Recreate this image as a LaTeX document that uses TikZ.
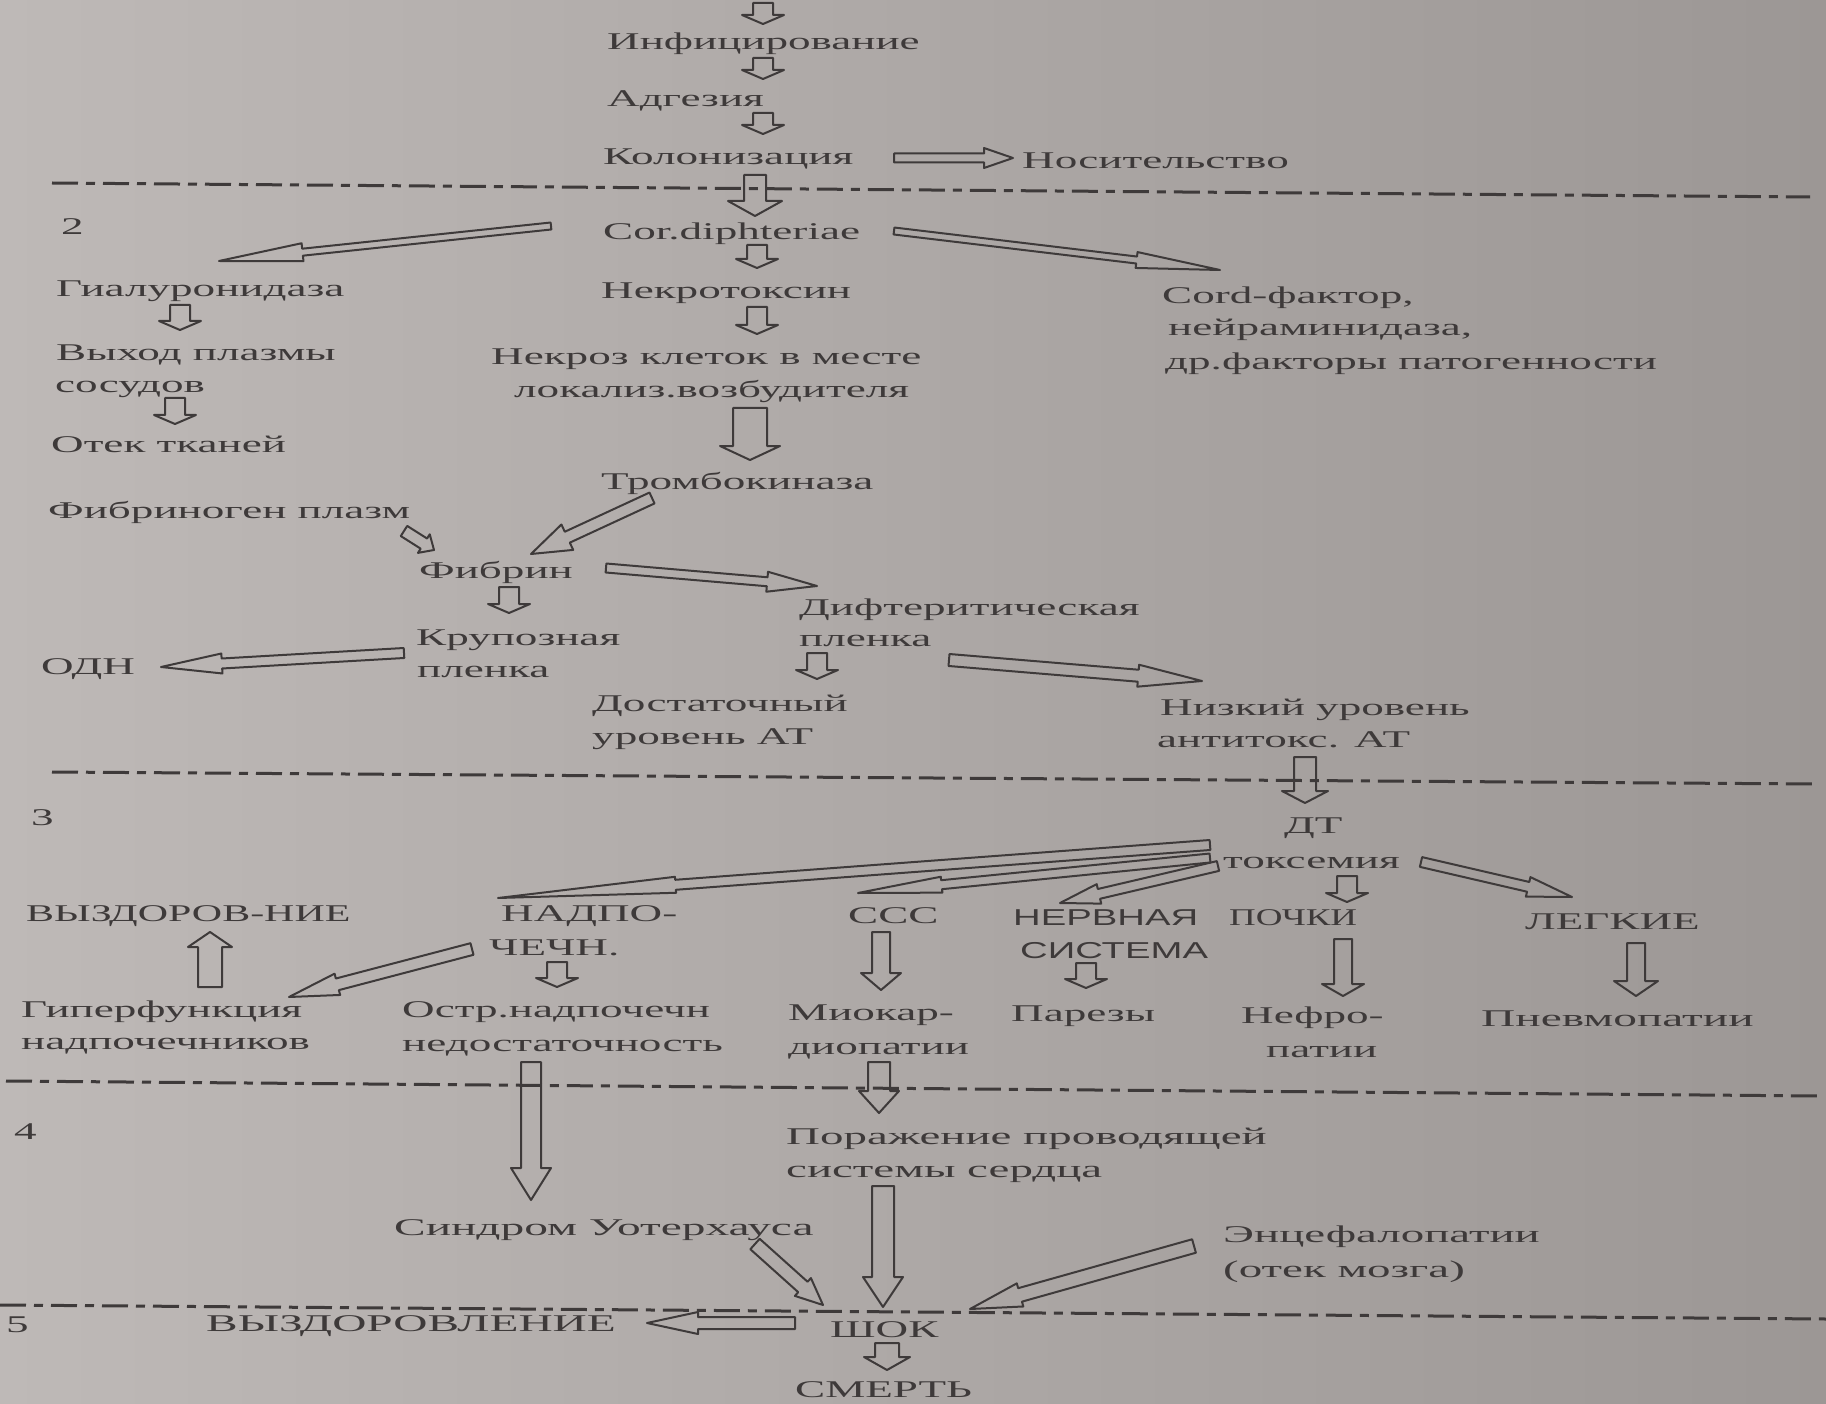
\documentclass[tikz,border=0pt]{standalone}
\usepackage{fontspec}
\setmainfont[FakeStretch=1.88]{Liberation Serif}
\newfontfamily\sansfam[FakeStretch=1.6]{Liberation Sans}
\usetikzlibrary{calc}
\definecolor{ink}{RGB}{62,58,58}
\definecolor{bgl}{RGB}{190,185,183}
\definecolor{bgr}{RGB}{156,151,149}
\tikzset{
 lbl/.style={anchor=west, inner sep=0pt, text height=22pt, text depth=4pt, font=\fontsize{24}{28}\selectfont, text=ink},
 slbl/.style={lbl, font=\sansfam\fontsize{23}{27}\selectfont},
 arr/.style={draw=ink, line width=2pt, line join=round},
 sep/.style={draw=ink, line width=3pt, dash pattern=on 26pt off 8pt on 9pt off 8pt},
}
% hollow block arrow: #1 from, #2 to, #3 shaft half width, #4 head half width, #5 head length
\newcommand\barr[5]{%
 \coordinate (bS) at #1;
 \coordinate (bT) at #2;
 \coordinate (bH) at ($(bT)!#5pt!(bS)$);
 \draw[arr] ($(bS)!#3pt!90:(bT)$) -- ($(bH)!#3pt!90:(bT)$) -- ($(bH)!#4pt!90:(bT)$) -- (bT)
   -- ($(bH)!#4pt!-90:(bT)$) -- ($(bH)!#3pt!-90:(bT)$) -- ($(bS)!#3pt!-90:(bT)$) -- cycle;}
\newcommand\sx[2]{\scalebox{#1}[1]{#2}}
\begin{document}
\begin{tikzpicture}[x=1pt,y=-1pt]
\shade[left color=bgl,right color=bgr] (0,0) rectangle (1826,1404);
\useasboundingbox (0,0) rectangle (1826,1404);

% separators
\coordinate (s1a) at (52,183);   \coordinate (s1b) at (1810,197);
\coordinate (s2a) at (52,772);   \coordinate (s2b) at (1816,784);
\coordinate (s3a) at (6,1081);   \coordinate (s3b) at (1822,1096);
\coordinate (s4a) at (0,1305);   \coordinate (s4b) at (1826,1319);
\draw[sep] (s1a) -- (s1b);
\draw[sep] (s2a) -- (s2b);
\draw[sep] (s3a) -- (s3b);
\draw[sep] (s4a) -- (s4b);

% nodes
\node[lbl] (inf) at (607,41) {Инфицирование};
\node[lbl] (adg) at (607,98) {Адгезия};
\node[lbl] (kol) at (603,156) {Колонизация};
\node[lbl] (nos) at (1022,160) {Носительство};
\node[lbl] (n2) at (61,226) {2};
\node[lbl] (cor) at (603,231) {Cor.diphteriae};
\node[lbl] (gial) at (56,288) {Гиалуронидаза};
\node[lbl] (nekr) at (601,290) {Некротоксин};
\node[lbl] (cord1) at (1162,295) {Cord-фактор,};
\node[lbl] (cord2) at (1168,327) {нейраминидаза,};
\node[lbl] (cord3) at (1165,361) {др.факторы патогенности};
\node[lbl] (vyh1) at (56,352) {Выход плазмы};
\node[lbl] (vyh2) at (55,383) {сосудов};
\node[lbl] (nek1) at (491,356) {Некроз клеток в месте};
\node[lbl] (nek2) at (514,389) {локализ.возбудителя};
\node[lbl] (otek) at (51,443) {Отек тканей};
\node[lbl] (tromb) at (601,480) {Тромбокиназа};
\node[lbl] (fibg) at (48,509) {Фибриноген плазм};
\node[lbl] (fibr) at (419,569) {Фибрин};
\node[lbl] (dif1) at (799,606) {Дифтеритическая};
\node[lbl] (dif2) at (799,637) {пленка};
\node[lbl] (kru1) at (416,636) {Крупозная};
\node[lbl] (kru2) at (417,668) {пленка};
\node[lbl] (odn) at (41,665) {ОДН};
\node[lbl] (dos1) at (592,702) {Достаточный};
\node[lbl] (dos2) at (592,735) {уровень АТ};
\node[lbl] (niz1) at (1160,706) {Низкий уровень};
\node[lbl] (niz2) at (1157,738) {антитокс. АТ};
\node[lbl] (n3) at (31,816) {3};
\node[lbl] (dt1) at (1284,824) {ДТ};
\node[lbl] (dt2) at (1223,859) {токсемия};
\node[lbl] (vyzd) at (26,912) {\sx{0.93}{ВЫЗДОРОВ-НИЕ}};
\node[lbl] (nad1) at (501,912) {НАДПО-};
\node[lbl] (nad2) at (489,946) {ЧЕЧН.};
\node[lbl] (ccc) at (848,914) {ССС};
\node[slbl] (nerv1) at (1013,916) {\sx{1.04}{НЕРВНАЯ}};
\node[slbl] (nerv2) at (1020,949) {\sx{1.04}{СИСТЕМА}};
\node[lbl] (poch) at (1229,916) {\sx{0.82}{ПОЧКИ}};
\node[lbl] (legk) at (1525,920) {ЛЕГКИЕ};
\node[lbl] (gip1) at (21,1008) {Гиперфункция};
\node[lbl] (gip2) at (21,1040) {надпочечников};
\node[lbl] (ost1) at (402,1008) {Остр.надпочечн};
\node[lbl] (ost2) at (402,1042) {недостаточность};
\node[lbl] (mio1) at (788,1011) {Миокар-};
\node[lbl] (mio2) at (788,1045) {диопатии};
\node[lbl] (par) at (1011,1012) {Парезы};
\node[lbl] (nef1) at (1241,1014) {Нефро-};
\node[lbl] (nef2) at (1266,1048) {патии};
\node[lbl] (pnev) at (1481,1017) {\sx{1.05}{Пневмопатии}};
\node[lbl] (n4) at (14,1130) {4};
\node[lbl] (por1) at (786,1135) {\sx{1.04}{Поражение проводящей}};
\node[lbl] (por2) at (786,1168) {\sx{1.04}{системы сердца}};
\node[lbl] (sin) at (394,1226) {\sx{1.05}{Синдром Уотерхауса}};
\node[lbl] (enc1) at (1223,1233) {\sx{1.04}{Энцефалопатии}};
\node[lbl] (enc2) at (1223,1268) {\sx{1.04}{(отек мозга)}};
\node[lbl] (n5) at (6,1323) {5};
\node[lbl] (vyzd2) at (206,1322) {\sx{1.05}{ВЫЗДОРОВЛЕНИЕ}};
\node[lbl] (shok) at (830,1328) {ШОК};
\node[lbl] (smert) at (795,1388) {СМЕРТЬ};

% arrows
\coordinate (topc) at (763,3);
\barr{(topc)}{($(inf.west)+(156,-17)$)}{10}{21}{9}
\barr{($(inf.west)+(156,17)$)}{($(adg.west)+(156,-19)$)}{10}{21}{9}
\barr{($(adg.west)+(156,15)$)}{($(kol.west)+(160,-22)$)}{10}{21}{9}
\barr{($(kol.west)+(291,2)$)}{($(nos.west)+(-9,-2)$)}{4.5}{10}{29}
\barr{($(kol.west)+(152,19)$)}{($(cor.west)+(152,-15)$)}{11}{27}{15}
\barr{($(cor.west)+(-52,-5)$)}{($(gial.west)+(163,-27)$)}{3.5}{9}{84}
\barr{($(cor.west)+(291,0)$)}{($(cord1.west)+(58,-25)$)}{3.5}{8}{84}
\barr{($(cor.west)+(154,14)$)}{($(nekr.west)+(156,-22)$)}{10}{21}{9}
\barr{($(gial.west)+(124,17)$)}{($(vyh1.west)+(124,-22)$)}{10}{21}{9}
\barr{($(nekr.west)+(156,17)$)}{($(nek1.west)+(266,-22)$)}{10}{21}{9}
\barr{($(vyh2.west)+(120,15)$)}{($(otek.west)+(124,-19)$)}{10}{21}{9}
\barr{($(nek2.west)+(236,19)$)}{($(tromb.west)+(149,-20)$)}{17}{30}{14}
\barr{($(fibg.west)+(356,22)$)}{($(fibr.west)+(15,-19)$)}{6}{11}{12}
\barr{($(tromb.west)+(51,18)$)}{($(fibr.west)+(112,-15)$)}{6}{14}{40}
\barr{($(fibr.west)+(187,-1)$)}{($(dif1.west)+(18,-20)$)}{4.5}{10}{50}
\barr{($(fibr.west)+(90,18)$)}{($(kru1.west)+(93,-23)$)}{10}{21}{9}
\barr{($(kru1.west)+(-12,17)$)}{($(odn.west)+(120,2)$)}{5}{10}{61}
\barr{($(dif2.west)+(18,16)$)}{($(dos1.west)+(225,-23)$)}{10}{21}{9}
\barr{($(dif2.west)+(150,23)$)}{($(niz1.west)+(42,-25)$)}{6}{11}{64}
\barr{($(niz2.west)+(148,19)$)}{($(dt1.west)+(21,-21)$)}{11}{23}{12}
\barr{($(dt2.west)+(-13,-14)$)}{($(nad1.west)+(-3,-14)$)}{5}{8}{178}
\barr{($(dt2.west)+(-13,-1)$)}{($(ccc.west)+(10,-21)$)}{4.5}{8}{84}
\barr{($(dt2.west)+(-5,7)$)}{($(nerv1.west)+(47,-13)$)}{5}{10}{40}
\barr{($(dt2.west)+(124,17)$)}{($(poch.west)+(118,-14)$)}{10}{21}{9}
\barr{($(dt2.west)+(198,3)$)}{($(legk.west)+(47,-23)$)}{5}{10}{45}
\barr{($(gip1.west)+(189,-21)$)}{($(vyzd.west)+(184,20)$)}{12}{22}{15}
\barr{($(nad2.west)+(-17,3)$)}{($(gip1.west)+(268,-11)$)}{6}{11}{50}
\barr{($(nad2.west)+(68,16)$)}{($(ost1.west)+(155,-21)$)}{10}{21}{9}
\barr{($(ccc.west)+(33,18)$)}{($(mio1.west)+(93,-21)$)}{9}{20}{17}
\barr{($(nerv2.west)+(66,14)$)}{($(par.west)+(75,-24)$)}{10}{21}{9}
\barr{($(poch.west)+(114,23)$)}{($(nef1.west)+(102,-18)$)}{9}{21}{12}
\barr{($(legk.west)+(111,23)$)}{($(pnev.west)+(155,-21)$)}{9}{22}{15}
\barr{($(ost2.west)+(129,20)$)}{($(sin.west)+(137,-26)$)}{10}{20}{32}
\barr{($(mio2.west)+(91,17)$)}{($(por1.west)+(93,-22)$)}{11}{20}{22}
\barr{($(por2.west)+(97,18)$)}{($(shok.west)+(53,-21)$)}{11}{20}{30}
\barr{($(sin.west)+(361,18)$)}{($(shok.west)+(-7,-23)$)}{7}{12}{27}
\barr{($(enc1.west)+(-29,13)$)}{($(shok.west)+(140,-19)$)}{7}{12}{52}
\barr{($(shok.west)+(-35,-5)$)}{($(vyzd2.west)+(441,1)$)}{6}{11}{51}
\barr{($(shok.west)+(57,15)$)}{($(smert.west)+(92,-18)$)}{12}{23}{13}
\end{tikzpicture}
\end{document}
